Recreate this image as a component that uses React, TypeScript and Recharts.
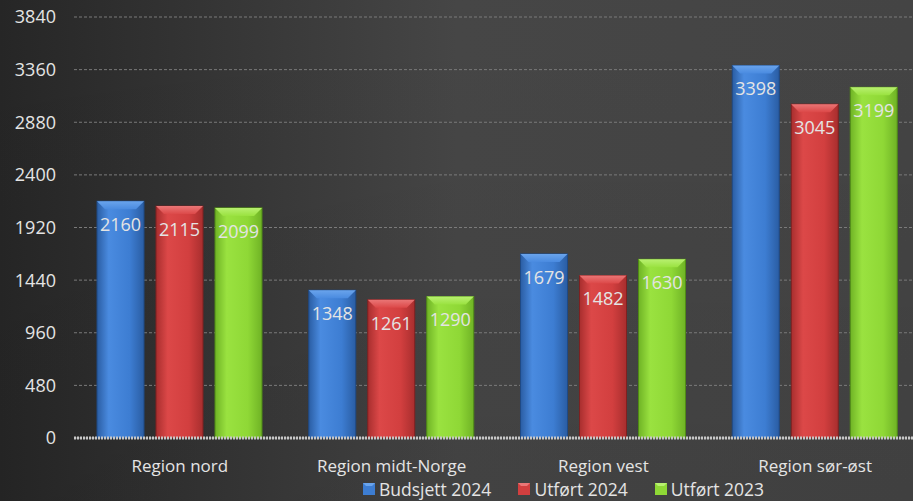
import React from 'react';
import { BarChart, Bar, XAxis, YAxis, CartesianGrid, LabelList } from 'recharts';

const categories = ['Region nord', 'Region midt-Norge', 'Region vest', 'Region sør-øst'];
const budsjett2024 = [2160, 1348, 1679, 3398];
const utfort2024 = [2115, 1261, 1482, 3045];
const utfort2023 = [2099, 1290, 1630, 3199];
const yTicks = [0, 480, 960, 1440, 1920, 2400, 2880, 3360, 3840];
const seriesNames = ['Budsjett 2024', 'Utført 2024', 'Utført 2023'];

const data = categories.map((c, i) => ({
  name: c,
  b24: budsjett2024[i],
  u24: utfort2024[i],
  u23: utfort2023[i],
}));

const FONT = '"Open Sans", Lato, sans-serif';

const palettes: Record<string, { edge: string; mid: string; light: string; top: string; stroke: string }> = {
  blue: { edge: '#2a5da3', mid: '#3d7dd2', light: '#4a8be0', top: '#6aa4ec', stroke: '#1f4a85' },
  red: { edge: '#a82e2e', mid: '#d23f3f', light: '#dc4848', top: '#ea7676', stroke: '#7e2020' },
  green: { edge: '#6fb325', mid: '#8fd836', light: '#9ae240', top: '#b8f070', stroke: '#4f8a16' },
};
const paletteKeys = ['blue', 'red', 'green'];

const makeShape = (key: string) => (props: any) => {
  const { x, y, width, height } = props;
  if (!height || height <= 0) return null;
  const p = palettes[key];
  const b = Math.min(8, width / 5);
  return (
    <g>
      <rect x={x} y={y} width={width} height={height} fill={`url(#grad-${key})`} stroke={p.stroke} strokeWidth={1} />
      <polygon
        points={`${x},${y} ${x + width},${y} ${x + width - b},${y + b} ${x + b},${y + b}`}
        fill={`url(#top-${key})`}
      />
    </g>
  );
};

const Label = (props: any) => {
  const { x, y, width, value } = props;
  return (
    <text x={x + width / 2} y={y + 25} textAnchor="middle" dominantBaseline="middle" fill="#e4e4e4" fontSize={18} fontFamily={FONT}>
      {value}
    </text>
  );
};

const LegendBox = () => (
  <div
    style={{
      position: 'absolute',
      left: 363,
      top: 478,
      display: 'flex',
      gap: 27,
      fontFamily: FONT,
      fontSize: 17.5,
      lineHeight: '22px',
      color: '#e4e4e4',
      whiteSpace: 'nowrap',
    }}
  >
    {seriesNames.map((t, i) => {
      const k = paletteKeys[i];
      return (
        <div key={k} style={{ display: 'flex', alignItems: 'center' }}>
          <svg width={12} height={12} style={{ marginRight: 4 }}>
            <rect x={0} y={0} width={12} height={12} fill={palettes[k].mid} />
            <polygon points="0,0 12,0 9,3 3,3" fill={palettes[k].top} />
          </svg>
          <span>{t}</span>
        </div>
      );
    })}
  </div>
);

export default function App() {
  return (
    <div style={{ position: 'fixed', left: 0, top: 0, width: 913, height: 501, overflow: 'hidden' }}>
      <svg width={913} height={501} style={{ position: 'absolute', left: 0, top: 0 }}>
        <defs>
          <linearGradient id="bg" x1="0" y1="0" x2="1" y2="0">
            <stop offset="0%" stopColor="#262626" />
            <stop offset="50%" stopColor="#464646" />
            <stop offset="100%" stopColor="#444444" />
          </linearGradient>
          <linearGradient id="bgv" x1="0" y1="0" x2="0" y2="1">
            <stop offset="0%" stopColor="#000" stopOpacity={0} />
            <stop offset="100%" stopColor="#000" stopOpacity={0.06} />
          </linearGradient>
        </defs>
        <rect x={0} y={0} width={913} height={501} fill="url(#bg)" />
        <rect x={0} y={0} width={913} height={501} fill="url(#bgv)" />
      </svg>
      <div style={{ position: 'absolute', left: 0, top: 0 }}>
        <BarChart
          width={921}
          height={501}
          data={data}
          margin={{ top: 17, right: 0, bottom: 13, left: 0 }}
          barGap={12}
          barCategoryGap={23}
        >
          <defs>
            {paletteKeys.map((k) => {
              const p = palettes[k];
              return (
                <React.Fragment key={k}>
                  <linearGradient id={`grad-${k}`} x1="0" y1="0" x2="1" y2="0">
                    <stop offset="0%" stopColor={p.edge} />
                    <stop offset="25%" stopColor={p.light} />
                    <stop offset="70%" stopColor={p.mid} />
                    <stop offset="100%" stopColor={p.edge} />
                  </linearGradient>
                  <linearGradient id={`top-${k}`} x1="0" y1="0" x2="0" y2="1">
                    <stop offset="0%" stopColor={p.top} />
                    <stop offset="100%" stopColor={p.light} />
                  </linearGradient>
                </React.Fragment>
              );
            })}
          </defs>
          <CartesianGrid vertical={false} stroke="#7a7a7a" strokeDasharray="3 2" />
          <XAxis
            dataKey="name"
            axisLine={{ stroke: '#c8c8c8', strokeWidth: 3, strokeDasharray: '2 1' }}
            tickLine={false}
            tick={{ fill: '#e4e4e4', fontSize: 17, fontFamily: FONT }}
            tickMargin={16}
            height={50}
          />
          <YAxis
            domain={[0, 3840]}
            ticks={yTicks}
            axisLine={false}
            tickLine={false}
            width={74}
            tickMargin={12}
            tick={{ fill: '#e4e4e4', fontSize: 18, fontFamily: FONT }}
            interval={0}
          />
          <Bar dataKey="b24" name={seriesNames[0]} shape={makeShape('blue')} isAnimationActive={false}>
            <LabelList dataKey="b24" content={<Label />} />
          </Bar>
          <Bar dataKey="u24" name={seriesNames[1]} shape={makeShape('red')} isAnimationActive={false}>
            <LabelList dataKey="u24" content={<Label />} />
          </Bar>
          <Bar dataKey="u23" name={seriesNames[2]} shape={makeShape('green')} isAnimationActive={false}>
            <LabelList dataKey="u23" content={<Label />} />
          </Bar>
        </BarChart>
      </div>
      <LegendBox />
    </div>
  );
}
